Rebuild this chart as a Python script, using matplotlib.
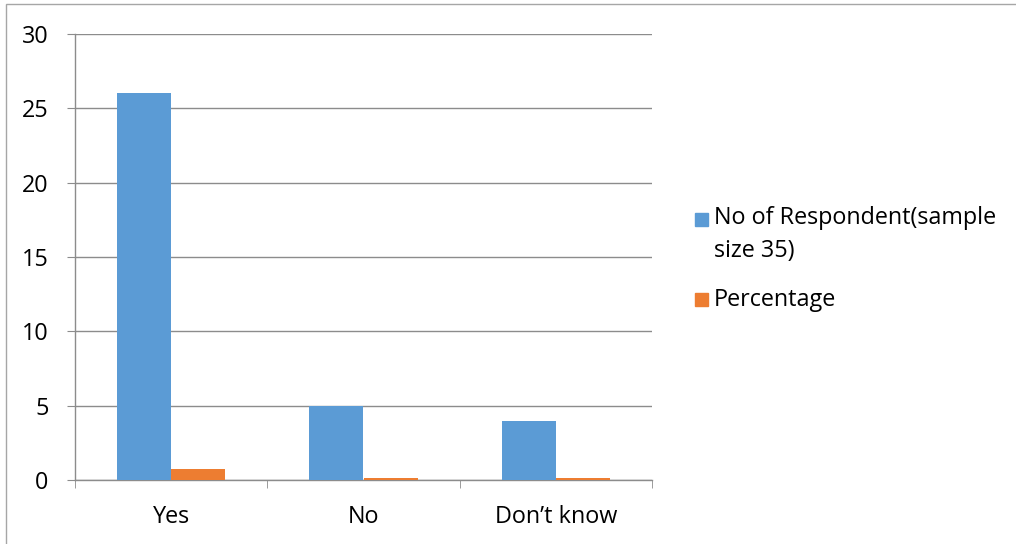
import matplotlib
matplotlib.use("Agg")
import matplotlib.pyplot as plt
from matplotlib.patches import Rectangle

categories = ["Yes", "No", "Don\u2019t know"]
respondents = [26, 5, 4]
percentage = [0.74, 0.14, 0.11]
series_labels = ["No of Respondent(sample\nsize 35)", "Percentage"]
y_ticks = [0, 5, 10, 15, 20, 25, 30]

blue = "#5B9BD5"
orange = "#ED7D31"
grid_gray = "#8C8C8C"

plt.rcParams["font.family"] = ["Open Sans", "DejaVu Sans"]
FS = 16.8

W, H = 1016, 544
fig = plt.figure(figsize=(W / 100, H / 100), dpi=100)

# axes box in pixel terms
x0, x1 = 75, 652
y_top, y_bot = 34, 480
ax = fig.add_axes([x0 / W, (H - y_bot) / H, (x1 - x0) / W, (y_bot - y_top) / H])

bw = 0.281
xs = list(range(len(categories)))
ax.bar([x - bw / 2 for x in xs], respondents, width=bw, color=blue, zorder=3)
ax.bar([x + bw / 2 for x in xs], percentage, width=bw, color=orange, zorder=3)

ax.set_xlim(-0.5, len(categories) - 0.5)
ax.set_ylim(0, 30)
ax.set_yticks(y_ticks)
ax.set_yticklabels([str(t) for t in y_ticks])
ax.yaxis.grid(True, color=grid_gray, linewidth=1, zorder=0)

for s in ["top", "right"]:
    ax.spines[s].set_visible(False)
for s in ["left", "bottom"]:
    ax.spines[s].set_color(grid_gray)
    ax.spines[s].set_linewidth(1)

ax.tick_params(axis="y", length=6, color=grid_gray, pad=13, labelsize=FS, labelcolor="black")
ax.set_xticks(xs)
ax.set_xticklabels(categories)
ax.tick_params(axis="x", which="major", length=0, pad=18, labelsize=FS, labelcolor="black")
ax.set_xticks([x - 0.5 for x in xs] + [len(categories) - 0.5], minor=True)
ax.tick_params(axis="x", which="minor", length=6, color=grid_gray, direction="out")

# legend drawn in figure pixel coordinates
def fx(px):
    return px / W

def fy(py):
    return (H - py) / H

sq = 13
fig.patches.append(Rectangle((fx(695), fy(226)), sq / W, sq / H, color=blue,
                             transform=fig.transFigure, figure=fig))
fig.text(fx(714), fy(206), series_labels[0], fontsize=FS, va="top", ha="left",
         linespacing=1.48)
fig.patches.append(Rectangle((fx(695), fy(306)), sq / W, sq / H, color=orange,
                             transform=fig.transFigure, figure=fig))
fig.text(fx(714), fy(300), series_labels[1], fontsize=FS, va="center", ha="left")

# outer chart frame
fig.patches.append(Rectangle((fx(6), fy(H + 10)), (W + 10) / W, (H + 6) / H,
                             fill=False, edgecolor="#A6A6A6", linewidth=1,
                             transform=fig.transFigure, figure=fig))

fig.savefig("out.png", dpi=100)
